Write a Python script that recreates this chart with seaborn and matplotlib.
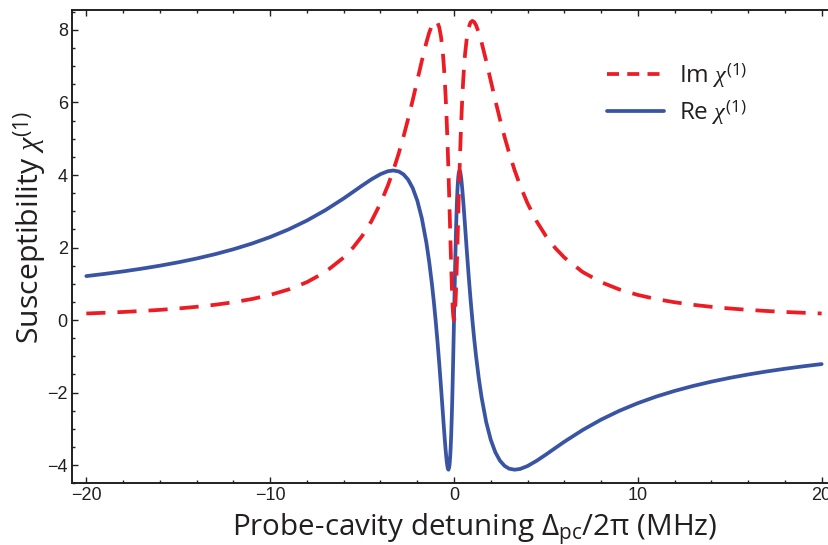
import matplotlib
matplotlib.use("Agg")
import matplotlib.pyplot as plt
from matplotlib.lines import Line2D
from matplotlib.ticker import MultipleLocator
import pandas as pd
import seaborn as sns

# ---- data ----
detuning = [-20, -19, -18, -17, -16, -15, -14, -13, -12, -11, -10, -9, -8, -7, -6, -5.5, -5, -4.5, -4,
            -3.6, -3.3, -3, -2.75, -2.5, -2.25, -2, -1.75, -1.5, -1.35, -1.2, -1.1, -1, -0.9, -0.8, -0.7,
            -0.6, -0.55, -0.5, -0.45, -0.4, -0.36, -0.33, -0.3, -0.26, -0.23, -0.2, -0.18, -0.15, -0.12,
            -0.1, -0.08, -0.065, -0.05, -0.035, -0.02, -0.01,
            0,
            0.01, 0.02, 0.035, 0.05, 0.065, 0.08, 0.1, 0.12, 0.15, 0.18, 0.2, 0.23, 0.26, 0.3, 0.33, 0.36,
            0.4, 0.45, 0.5, 0.55, 0.6, 0.7, 0.8, 0.9, 1, 1.1, 1.2, 1.35, 1.5, 1.75, 2, 2.25, 2.5, 2.75, 3,
            3.3, 3.6, 4, 4.5, 5, 5.5, 6, 7, 8, 9, 10, 11, 12, 13, 14, 15, 16, 17, 18, 19, 20]

im_chi = [0.182, 0.202, 0.224, 0.251, 0.282, 0.320, 0.366, 0.422, 0.492, 0.580, 0.694, 0.844, 1.046, 1.325,
          1.726, 1.992, 2.317, 2.720, 3.220, 3.706, 4.129, 4.609, 5.053, 5.537, 6.056, 6.600, 7.147, 7.659,
          7.923, 8.129, 8.217, 8.250, 8.209, 8.069, 7.791, 7.324, 6.999, 6.600, 6.116, 5.537, 5.001, 4.558,
          4.079, 3.397, 2.861, 2.317, 1.959, 1.443, 0.971, 0.694, 0.455, 0.305, 0.182, 0.090, 0.030, 0.008,
          0.000,
          0.008, 0.030, 0.090, 0.182, 0.305, 0.455, 0.694, 0.971, 1.443, 1.959, 2.317, 2.861, 3.397, 4.079,
          4.558, 5.001, 5.537, 6.116, 6.600, 6.999, 7.324, 7.791, 8.069, 8.209, 8.250, 8.217, 8.129, 7.923,
          7.659, 7.147, 6.600, 6.056, 5.537, 5.053, 4.609, 4.129, 3.706, 3.220, 2.720, 2.317, 1.992, 1.726,
          1.325, 1.046, 0.844, 0.694, 0.580, 0.492, 0.422, 0.366, 0.320, 0.282, 0.251, 0.224, 0.202, 0.182]

re_chi = [1.213, 1.274, 1.342, 1.417, 1.500, 1.593, 1.698, 1.817, 1.953, 2.109, 2.290, 2.500, 2.745, 3.030,
          3.355, 3.531, 3.708, 3.878, 4.024, 4.104, 4.125, 4.097, 4.019, 3.876, 3.645, 3.300, 2.808, 2.128,
          1.609, 0.994, 0.523, 0.000, -0.578, -1.210, -1.892, -2.604, -2.959, -3.300, -3.613, -3.876, -4.031,
          -4.102, -4.125, -4.060, -3.927, -3.708, -3.511, -3.134, -2.659, -2.290, -1.883, -1.556, -1.213,
          -0.858, -0.493, -0.275,
          0.000,
          0.275, 0.493, 0.858, 1.213, 1.556, 1.883, 2.290, 2.659, 3.134, 3.511, 3.708, 3.927, 4.060, 4.125,
          4.102, 4.031, 3.876, 3.613, 3.300, 2.959, 2.604, 1.892, 1.210, 0.578, 0.000, -0.523, -0.994, -1.609,
          -2.128, -2.808, -3.300, -3.645, -3.876, -4.019, -4.097, -4.125, -4.104, -4.024, -3.878, -3.708,
          -3.531, -3.355, -3.030, -2.745, -2.500, -2.290, -2.109, -1.953, -1.817, -1.698, -1.593, -1.500,
          -1.417, -1.342, -1.274, -1.213]

series_labels = [r"Im $\chi^{\mathrm{(1)}}$", r"Re $\chi^{\mathrm{(1)}}$"]
x_label = r"Probe-cavity detuning Δ$_{\mathrm{pc}}$/2π (MHz)"
y_label = r"Susceptibility $\chi^{\mathrm{(1)}}$"

RED = "#ED1C24"
BLUE = "#3A54A4"
INK = "#231F20"

# ---- style ----
sns.set_style("ticks")
plt.rcParams["font.family"] = ["Liberation Sans", "DejaVu Sans"]
plt.rcParams["mathtext.fontset"] = "custom"
plt.rcParams["mathtext.rm"] = "Open Sans"
plt.rcParams["mathtext.it"] = "Liberation Serif:italic"
plt.rcParams["axes.unicode_minus"] = True

W, H = 829, 545
fig = plt.figure(figsize=(W / 100, H / 100), dpi=100)
left, right, top, bottom = 72, 829, 10, 483.3
ax = fig.add_axes([left / W, 1 - bottom / H, (right - left) / W, (bottom - top) / H])

df = pd.DataFrame({"detuning": detuning, "Im": im_chi, "Re": re_chi})
sns.lineplot(data=df, x="detuning", y="Re", ax=ax, color=BLUE, lw=2.7, estimator=None, sort=False)
sns.lineplot(data=df, x="detuning", y="Im", ax=ax, color=RED, lw=2.7, estimator=None, sort=False,
             linestyle=(0, (5.1, 3.2)))

ax.set_xlim(-20.78, 20.40)
ax.set_ylim(-4.50, 8.55)

ax.xaxis.set_major_locator(MultipleLocator(10))
ax.xaxis.set_minor_locator(MultipleLocator(2))
ax.yaxis.set_major_locator(MultipleLocator(2))
ax.yaxis.set_minor_locator(MultipleLocator(0.5))
ax.tick_params(which="both", direction="in", top=True, right=False, width=1.0, colors=INK,
               labelcolor=INK, labelsize=13, pad=3)
ax.tick_params(which="major", length=4.2)
ax.tick_params(which="minor", length=2.2)
for s in ("left", "bottom", "top"):
    ax.spines[s].set_linewidth(1.4)
    ax.spines[s].set_color(INK)
ax.spines["right"].set_visible(False)

ax.set_xlabel(x_label, fontfamily="Open Sans", fontsize=21.3, color=INK)
ax.set_ylabel(y_label, fontfamily="Open Sans", fontsize=21.8, color=INK)
ax.xaxis.set_label_coords(0.532, -0.0606)
ax.yaxis.set_label_coords(-0.029, 0.5415)
ax.xaxis.label.set_va("top")

handles = [Line2D([], [], color=RED, lw=2.7, linestyle=(0, (3.2, 2.2))),
           Line2D([], [], color=BLUE, lw=2.7)]
leg = ax.legend(handles, series_labels, loc="upper left", bbox_to_anchor=(607 / W, 1 - 61 / H),
                bbox_transform=fig.transFigure, frameon=False, borderpad=0, borderaxespad=0,
                handlelength=2.35, handletextpad=0.62, labelspacing=0.33,
                prop={"family": "Open Sans", "size": 17.5})
for t in leg.get_texts():
    t.set_color(INK)

fig.savefig("out.png", dpi=100)
